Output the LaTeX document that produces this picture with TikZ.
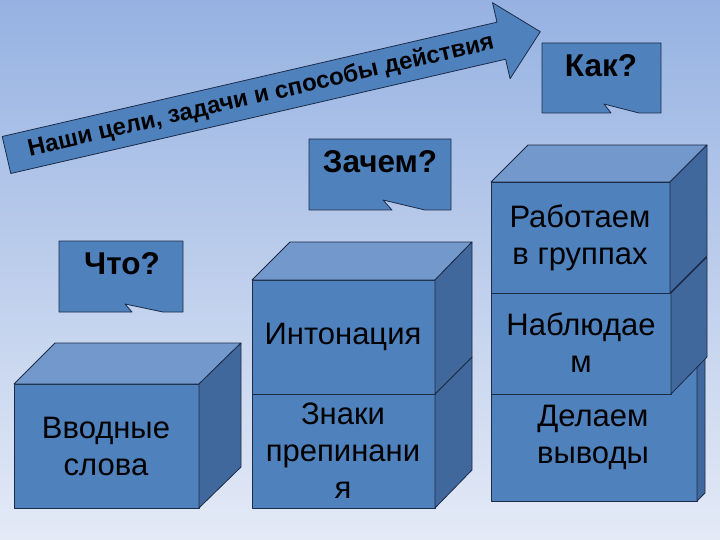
\documentclass[tikz,border=0pt]{standalone}
\usepackage{fontspec}
\setmainfont{Liberation Sans}
\definecolor{frontc}{RGB}{79,129,189}
\definecolor{topc}{RGB}{114,152,204}
\definecolor{sidec}{RGB}{64,104,156}
\definecolor{outl}{RGB}{28,44,72}
\definecolor{bgtop}{RGB}{150,178,226}
\definecolor{bgbot}{RGB}{228,234,246}
\tikzset{
  face/.style={draw=outl, line width=0.8pt, line join=round},
  frontface/.style={face, fill=frontc},
  topface/.style={face, fill=topc},
  sideface/.style={face, fill=sidec},
  callout/.style={face, fill=frontc},
  cubetext/.style={font=\fontsize{31}{37}\selectfont, align=center, text=black, inner sep=0pt},
  calltext/.style={font=\fontsize{31.5}{36}\selectfont\bfseries, text=black, inner sep=0pt},
  arrowtext/.style={font=\fontsize{24}{28}\selectfont\bfseries, text=black, inner sep=0pt}
}
\begin{document}
\begin{tikzpicture}[x=1pt, y=-1pt]
\useasboundingbox (0,0) rectangle (720,540);
\shade[top color=bgtop, bottom color=bgbot] (0,0) rectangle (720,540);

% arrow
\draw[face, fill=frontc] (2.2,136.5) -- (497,22.2) -- (492.5,2.7) -- (540.3,31.7)
  -- (510.1,78.7) -- (505.6,59.2) -- (10.8,173.5) -- cycle;
\node[arrowtext, rotate=13] (goal) at (261,96) {Наши цели, задачи и способы действия};

% callouts
\draw[callout] (59,241) -- (183,241) -- (183,312) -- (163,312) -- (125,304) -- (132,312) -- (59,312) -- cycle;
\node[calltext] (what) at (122,264) {Что?};
\draw[callout] (309,139) -- (451,139) -- (451,210) -- (425,210) -- (383,200) -- (392,210) -- (309,210) -- cycle;
\node[calltext] (why) at (380,162) {Зачем?};
\draw[callout] (542,43) -- (661,43) -- (661,113) -- (639,113) -- (604,104) -- (611,113) -- (542,113) -- cycle;
\node[calltext] (how) at (601,66) {Как?};

% cube 1
\draw[frontface] (14,384) rectangle (199,508);
\draw[topface] (14,384) -- (55,343) -- (241,343) -- (199,384) -- cycle;
\draw[sideface] (199,384) -- (241,343) -- (241,467) -- (199,508) -- cycle;
\node[cubetext] (intro) at (106,446) {Вводные\\слова};

% cube 2 (two stacked)
\draw[frontface] (252,394) rectangle (435,508);
\draw[sideface] (435,394) -- (472,357) -- (472,470) -- (435,508) -- cycle;
\node[cubetext] (punct) at (343,451) {Знаки\\препинани\\я};
\draw[frontface] (252,280) rectangle (435,394);
\draw[topface] (252,280) -- (290,242) -- (472,242) -- (435,280) -- cycle;
\draw[sideface] (435,280) -- (472,242) -- (472,357) -- (435,394) -- cycle;
\node[cubetext] (inton) at (343,337) {Интонация};

% cube 3 (three stacked)
\draw[frontface] (491,355) rectangle (697,501);
\draw[sideface] (697,355) -- (705,347) -- (705,493) -- (697,501) -- cycle;
\node[cubetext] (concl) at (593,437) {Делаем\\выводы};
\draw[frontface] (491,293) rectangle (671,394);
\draw[sideface] (671,293) -- (707,257) -- (707,357) -- (671,394) -- cycle;
\node[cubetext] (observe) at (581,343) {Наблюдае\\м};
\draw[frontface] (491,182) rectangle (670,293);
\draw[topface] (491,182) -- (528,145) -- (707,145) -- (670,182) -- cycle;
\draw[sideface] (670,182) -- (707,145) -- (707,256) -- (670,293) -- cycle;
\node[cubetext] (group) at (580,238) {Работаем\\в группах};
\end{tikzpicture}
\end{document}
